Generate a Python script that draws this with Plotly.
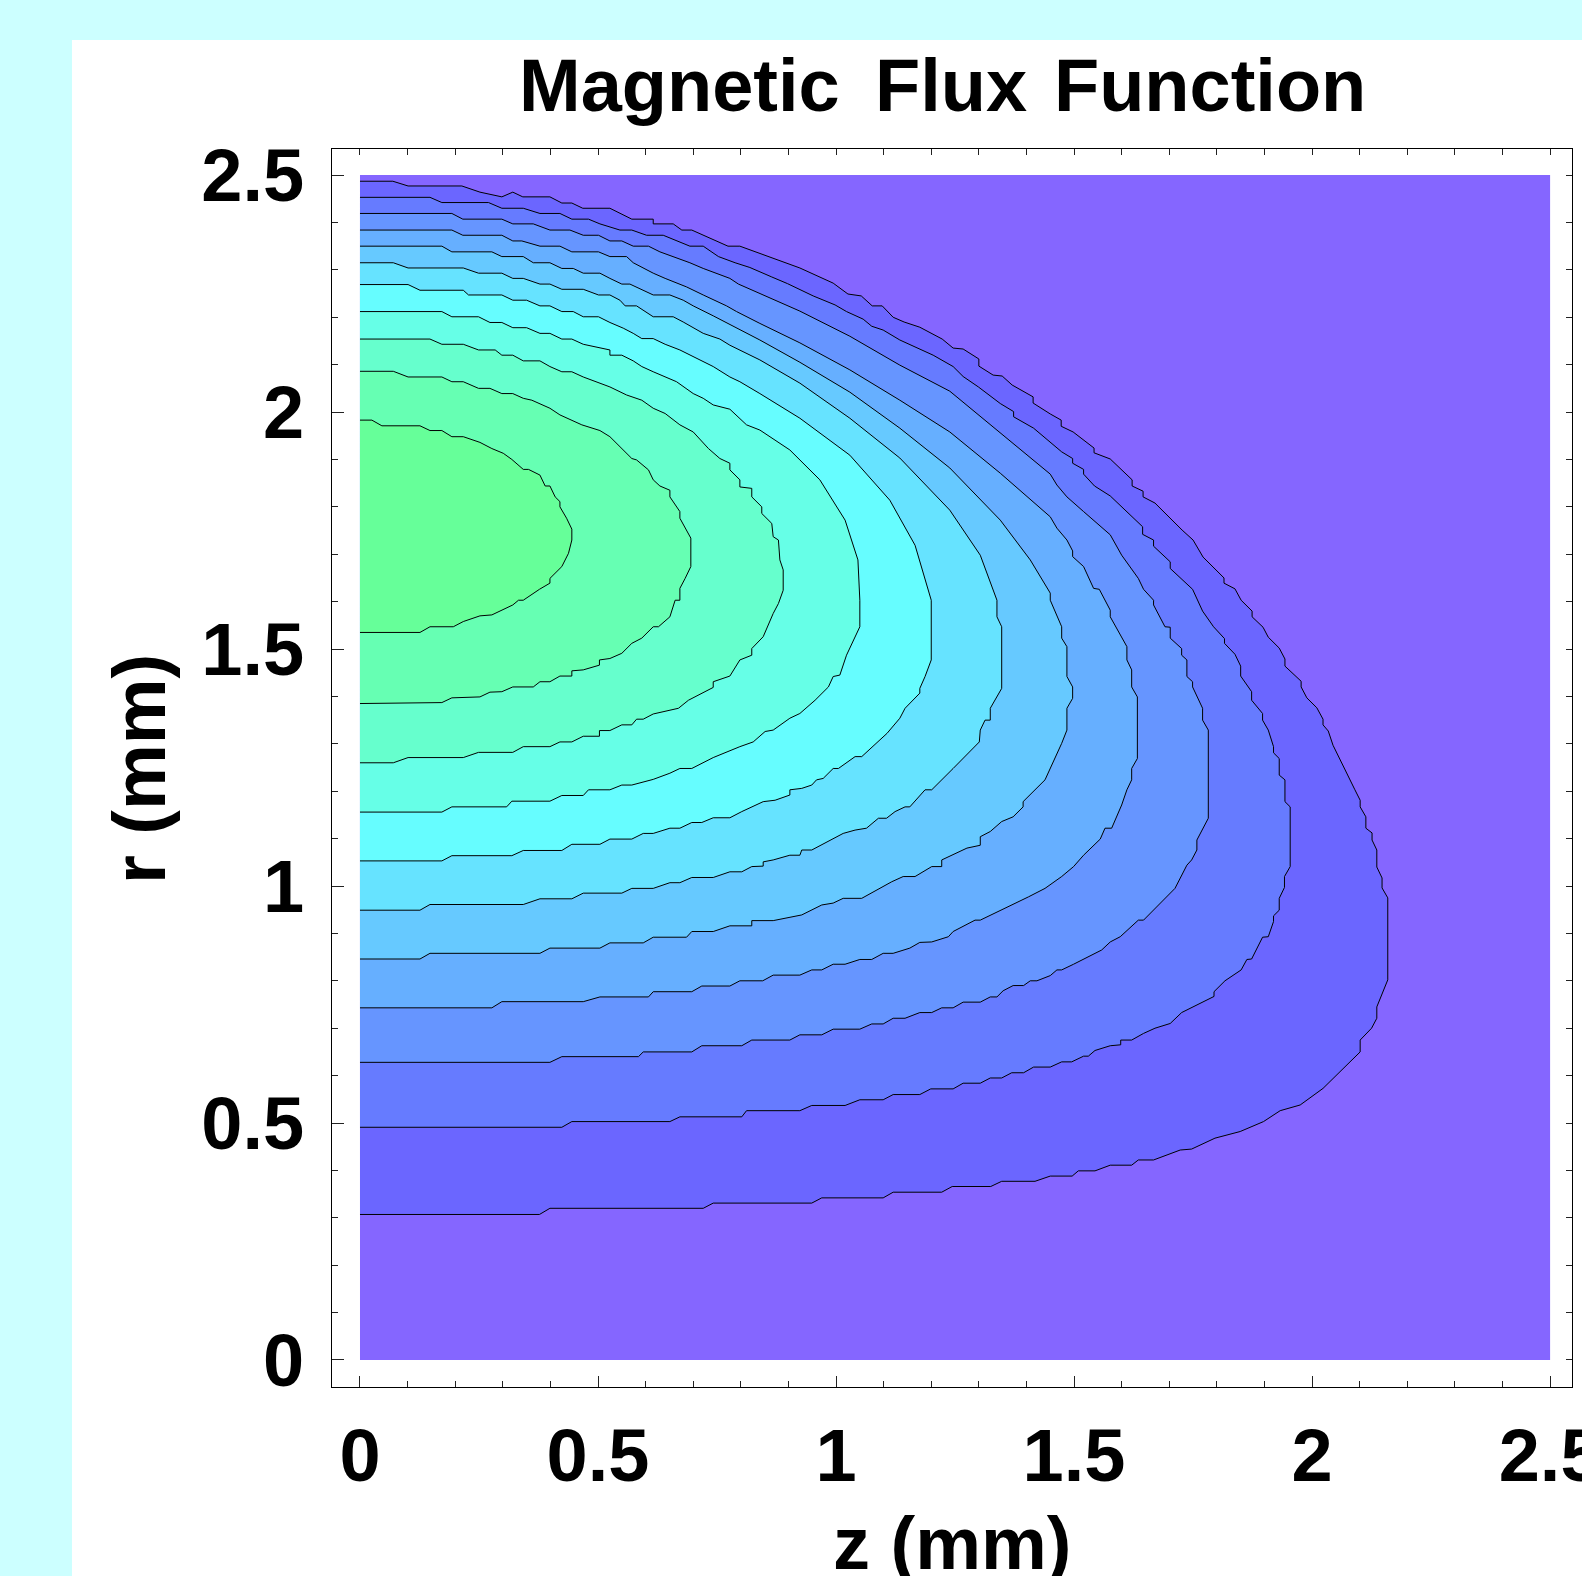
import plotly.graph_objects as go

TITLE = "Magnetic\u2009 Flux\u200a Function"
X_LABEL = "z (mm)"
Y_LABEL = "r (mm)"
Z_TICKS = [0, 0.5, 1, 1.5, 2, 2.5]
R_TICKS = [0, 0.5, 1, 1.5, 2, 2.5]
TICK_TEXT = ["0", "0.5", "1", "1.5", "2", "2.5"]
Z_RANGE = [-0.0588, 2.546]
R_RANGE = [-0.057, 2.555]
DOMAIN_Z = [0, 2.5]
DOMAIN_R = [0, 2.5]

# contour lines (z, r) in mm, outermost (C1) to innermost (C11)
C1 = [(0,2.487),(0.069,2.487),(0.101,2.477),(0.214,2.477),(0.252,2.464),(0.298,2.454),(0.321,2.464),(0.342,2.454),(0.399,2.454),(0.424,2.441),(0.445,2.441),(0.468,2.430),(0.525,2.430),(0.571,2.407),(0.616,2.407),(0.616,2.397),(0.658,2.397),(0.676,2.384),(0.697,2.384),(0.746,2.361),(0.773,2.350),(0.798,2.350),(0.866,2.325),(0.924,2.304),(0.994,2.272),(1.025,2.249),(1.053,2.245),(1.076,2.224),(1.097,2.224),(1.120,2.200),(1.143,2.190),(1.176,2.179),(1.223,2.154),(1.246,2.135),(1.267,2.133),(1.300,2.112),(1.300,2.097),(1.330,2.078),(1.349,2.076),(1.370,2.057),(1.414,2.032),(1.414,2.019),(1.450,1.996),(1.473,1.983),(1.473,1.970),(1.498,1.958),(1.542,1.924),(1.542,1.914),(1.576,1.901),(1.622,1.857),(1.622,1.844),(1.645,1.833),(1.645,1.821),(1.670,1.808),(1.727,1.751),(1.750,1.730),(1.771,1.694),(1.815,1.650),(1.815,1.639),(1.838,1.627),(1.851,1.603),(1.874,1.580),(1.874,1.568),(1.897,1.546),(1.908,1.525),(1.931,1.502),(1.943,1.479),(1.943,1.464),(1.977,1.432),(1.977,1.420),(1.989,1.397),(2.010,1.376),(2.023,1.352),(2.023,1.340),(2.034,1.327),(2.044,1.297),(2.090,1.203),(2.101,1.181),(2.101,1.167),(2.113,1.146),(2.113,1.122),(2.126,1.112),(2.126,1.097),(2.136,1.076),(2.136,1.040),(2.147,1.017),(2.147,0.996),(2.159,0.975),(2.159,0.802),(2.136,0.745),(2.136,0.721),(2.125,0.700),(2.101,0.675),(2.101,0.650),(2.023,0.573),(1.975,0.538),(1.933,0.526),(1.898,0.503),(1.849,0.482),(1.796,0.468),(1.747,0.445),(1.723,0.443),(1.667,0.422),(1.635,0.422),(1.621,0.411),(1.576,0.411),(1.544,0.399),(1.509,0.399),(1.496,0.388),(1.450,0.388),(1.418,0.377),(1.348,0.377),(1.325,0.366),(1.244,0.366),(1.222,0.354),(1.120,0.354),(1.099,0.342),(0.970,0.342),(0.949,0.331),(0.742,0.331),(0.721,0.320),(0.399,0.320),(0.377,0.307),(0,0.307)]

C2 = [(0,2.453),(0.147,2.453),(0.172,2.442),(0.270,2.442),(0.298,2.430),(0.343,2.430),(0.378,2.419),(0.420,2.419),(0.445,2.407),(0.480,2.407),(0.504,2.397),(0.546,2.384),(0.571,2.384),(0.602,2.373),(0.637,2.373),(0.693,2.350),(0.721,2.350),(0.753,2.328),(0.788,2.315),(0.819,2.305),(0.865,2.285),(0.898,2.271),(0.952,2.245),(0.998,2.226),(1.022,2.212),(1.057,2.196),(1.075,2.181),(1.099,2.173),(1.134,2.152),(1.204,2.120),(1.246,2.096),(1.267,2.075),(1.299,2.053),(1.345,2.018),(1.373,2.001),(1.373,1.990),(1.415,1.966),(1.450,1.937),(1.474,1.916),(1.497,1.902),(1.497,1.892),(1.520,1.879),(1.520,1.869),(1.543,1.844),(1.576,1.823),(1.644,1.758),(1.644,1.742),(1.667,1.730),(1.667,1.717),(1.702,1.684),(1.702,1.670),(1.749,1.626),(1.770,1.580),(1.793,1.547),(1.816,1.522),(1.816,1.512),(1.838,1.489),(1.850,1.464),(1.850,1.443),(1.873,1.410),(1.873,1.392),(1.896,1.364),(1.896,1.350),(1.908,1.329),(1.919,1.294),(1.919,1.281),(1.931,1.269),(1.931,1.234),(1.943,1.224),(1.943,1.178),(1.954,1.167),(1.954,1.041),(1.942,1.020),(1.942,0.997),(1.931,0.974),(1.931,0.949),(1.919,0.937),(1.919,0.925),(1.908,0.893),(1.896,0.892),(1.873,0.846),(1.863,0.845),(1.851,0.823),(1.817,0.800),(1.794,0.777),(1.794,0.767),(1.772,0.756),(1.726,0.733),(1.702,0.710),(1.670,0.700),(1.646,0.689),(1.621,0.675),(1.598,0.675),(1.598,0.665),(1.576,0.663),(1.544,0.653),(1.530,0.641),(1.520,0.641),(1.495,0.629),(1.474,0.629),(1.450,0.618),(1.415,0.618),(1.394,0.606),(1.369,0.606),(1.348,0.595),(1.324,0.595),(1.303,0.584),(1.267,0.584),(1.246,0.572),(1.199,0.572),(1.176,0.560),(1.120,0.560),(1.099,0.549),(1.050,0.549),(1.019,0.537),(0.949,0.537),(0.924,0.526),(0.812,0.526),(0.802,0.513),(0.672,0.513),(0.651,0.503),(0.445,0.503),(0.424,0.491),(0,0.491)]

C3 = [(0,2.419),(0.193,2.419),(0.216,2.407),(0.298,2.407),(0.321,2.397),(0.364,2.397),(0.399,2.384),(0.441,2.384),(0.469,2.373),(0.501,2.373),(0.525,2.361),(0.550,2.361),(0.574,2.350),(0.606,2.350),(0.630,2.338),(0.658,2.328),(0.693,2.315),(0.721,2.303),(0.777,2.282),(0.795,2.270),(0.840,2.250),(0.924,2.213),(1.029,2.160),(1.134,2.099),(1.239,2.044),(1.345,1.956),(1.450,1.869),(1.464,1.846),(1.485,1.821),(1.520,1.790),(1.576,1.741),(1.600,1.698),(1.635,1.649),(1.646,1.626),(1.667,1.603),(1.667,1.593),(1.691,1.547),(1.702,1.546),(1.702,1.523),(1.726,1.501),(1.726,1.487),(1.737,1.477),(1.737,1.442),(1.749,1.431),(1.749,1.420),(1.770,1.375),(1.770,1.350),(1.782,1.329),(1.782,1.143),(1.758,1.097),(1.758,1.076),(1.747,1.055),(1.737,1.044),(1.712,0.995),(1.681,0.963),(1.660,0.942),(1.646,0.928),(1.635,0.928),(1.597,0.893),(1.576,0.882),(1.558,0.865),(1.499,0.835),(1.474,0.823),(1.464,0.823),(1.450,0.811),(1.422,0.800),(1.408,0.800),(1.394,0.790),(1.372,0.790),(1.351,0.779),(1.338,0.766),(1.324,0.766),(1.303,0.755),(1.267,0.755),(1.246,0.743),(1.222,0.743),(1.201,0.733),(1.176,0.733),(1.145,0.721),(1.120,0.721),(1.099,0.709),(1.075,0.709),(1.050,0.698),(0.994,0.698),(0.970,0.686),(0.924,0.686),(0.903,0.675),(0.823,0.675),(0.802,0.663),(0.718,0.663),(0.697,0.650),(0.595,0.650),(0.585,0.640),(0.424,0.640),(0.399,0.628),(0,0.628)]

C4 = [(0,2.384),(0.193,2.384),(0.216,2.373),(0.298,2.373),(0.321,2.361),(0.340,2.361),(0.378,2.350),(0.420,2.350),(0.445,2.338),(0.501,2.338),(0.525,2.328),(0.560,2.328),(0.574,2.315),(0.592,2.305),(0.616,2.293),(0.641,2.282),(0.686,2.264),(0.721,2.247),(0.746,2.236),(0.770,2.224),(0.791,2.212),(0.812,2.201),(0.840,2.187),(0.924,2.146),(1.029,2.089),(1.134,2.025),(1.239,1.958),(1.345,1.871),(1.450,1.779),(1.464,1.755),(1.485,1.730),(1.497,1.707),(1.497,1.695),(1.520,1.674),(1.541,1.628),(1.553,1.626),(1.576,1.582),(1.576,1.568),(1.600,1.523),(1.611,1.505),(1.611,1.477),(1.621,1.456),(1.621,1.420),(1.633,1.399),(1.633,1.269),(1.621,1.248),(1.621,1.224),(1.611,1.203),(1.600,1.171),(1.579,1.122),(1.565,1.122),(1.555,1.099),(1.520,1.065),(1.499,1.041),(1.474,1.020),(1.439,0.995),(1.404,0.977),(1.303,0.928),(1.292,0.928),(1.246,0.904),(1.236,0.893),(1.201,0.882),(1.176,0.881),(1.155,0.869),(1.120,0.858),(1.099,0.858),(1.075,0.845),(1.050,0.845),(1.019,0.835),(0.994,0.835),(0.970,0.823),(0.949,0.823),(0.924,0.812),(0.868,0.812),(0.846,0.800),(0.798,0.800),(0.777,0.789),(0.718,0.789),(0.697,0.777),(0.616,0.777),(0.606,0.766),(0.504,0.766),(0.469,0.756),(0.298,0.756),(0.277,0.743),(0,0.743)]

C5 = [(0,2.350),(0.172,2.350),(0.193,2.338),(0.277,2.338),(0.298,2.328),(0.343,2.328),(0.364,2.315),(0.399,2.315),(0.424,2.303),(0.448,2.303),(0.469,2.293),(0.504,2.293),(0.525,2.282),(0.550,2.270),(0.567,2.270),(0.592,2.259),(0.616,2.247),(0.651,2.247),(0.679,2.236),(0.700,2.224),(0.721,2.214),(0.742,2.203),(0.840,2.152),(0.924,2.105),(1.029,2.042),(1.134,1.966),(1.239,1.882),(1.345,1.772),(1.408,1.688),(1.450,1.618),(1.450,1.603),(1.474,1.547),(1.474,1.523),(1.485,1.505),(1.485,1.442),(1.497,1.420),(1.497,1.396),(1.485,1.375),(1.485,1.329),(1.474,1.301),(1.439,1.224),(1.393,1.178),(1.393,1.167),(1.372,1.146),(1.348,1.136),(1.324,1.115),(1.303,1.104),(1.303,1.086),(1.275,1.080),(1.222,1.055),(1.222,1.041),(1.201,1.041),(1.166,1.020),(1.141,1.020),(1.117,1.009),(1.054,0.974),(1.015,0.974),(0.994,0.964),(0.970,0.960),(0.949,0.949),(0.928,0.939),(0.868,0.927),(0.823,0.927),(0.823,0.916),(0.777,0.916),(0.742,0.904),(0.697,0.904),(0.686,0.892),(0.616,0.892),(0.595,0.880),(0.525,0.880),(0.504,0.869),(0.399,0.869),(0.378,0.858),(0.147,0.858),(0.126,0.846),(0,0.846)]

C6 = [(0,2.315),(0.070,2.315),(0.101,2.304),(0.217,2.304),(0.249,2.293),(0.298,2.293),(0.321,2.282),(0.343,2.282),(0.378,2.270),(0.399,2.270),(0.424,2.259),(0.469,2.259),(0.501,2.247),(0.525,2.247),(0.546,2.236),(0.557,2.224),(0.581,2.224),(0.616,2.201),(0.658,2.201),(0.679,2.190),(0.721,2.166),(0.756,2.154),(0.777,2.141),(0.798,2.131),(0.840,2.110),(0.924,2.061),(1.029,1.987),(1.134,1.903),(1.239,1.793),(1.303,1.698),(1.338,1.603),(1.338,1.568),(1.348,1.547),(1.348,1.417),(1.324,1.375),(1.324,1.350),(1.313,1.350),(1.303,1.329),(1.301,1.304),(1.246,1.248),(1.201,1.203),(1.187,1.203),(1.155,1.167),(1.145,1.167),(1.124,1.157),(1.106,1.143),(1.089,1.143),(1.064,1.122),(1.040,1.118),(1.015,1.111),(0.949,1.076),(0.928,1.076),(0.924,1.065),(0.903,1.065),(0.868,1.055),(0.847,1.051),(0.847,1.042),(0.823,1.041),(0.802,1.030),(0.777,1.030),(0.742,1.018),(0.697,1.018),(0.672,1.007),(0.651,1.007),(0.616,0.995),(0.571,0.995),(0.550,0.985),(0.469,0.985),(0.445,0.973),(0.378,0.973),(0.343,0.961),(0.147,0.961),(0.126,0.949),(0,0.949)]

C7 = [(0,2.269),(0.101,2.269),(0.126,2.257),(0.217,2.257),(0.228,2.247),(0.298,2.247),(0.321,2.236),(0.350,2.236),(0.378,2.224),(0.399,2.224),(0.424,2.212),(0.448,2.212),(0.469,2.201),(0.501,2.201),(0.525,2.189),(0.553,2.177),(0.574,2.166),(0.592,2.155),(0.616,2.155),(0.641,2.143),(0.672,2.131),(0.700,2.117),(0.721,2.106),(0.742,2.096),(0.777,2.074),(0.798,2.064),(0.840,2.039),(0.924,1.987),(1.029,1.909),(1.113,1.814),(1.166,1.719),(1.200,1.603),(1.200,1.477),(1.187,1.442),(1.176,1.417),(1.176,1.407),(1.145,1.375),(1.134,1.354),(1.107,1.322),(1.054,1.273),(1.040,1.273),(1.019,1.259),(1.005,1.248),(0.994,1.248),(0.973,1.227),(0.959,1.224),(0.949,1.213),(0.928,1.206),(0.903,1.203),(0.903,1.192),(0.872,1.181),(0.847,1.178),(0.823,1.167),(0.802,1.157),(0.777,1.144),(0.742,1.144),(0.718,1.134),(0.697,1.134),(0.672,1.122),(0.651,1.122),(0.616,1.111),(0.595,1.111),(0.571,1.099),(0.525,1.099),(0.504,1.088),(0.445,1.088),(0.424,1.075),(0.343,1.075),(0.319,1.064),(0.193,1.064),(0.172,1.053),(0,1.053)]

C8 = [(0,2.212),(0.172,2.212),(0.193,2.201),(0.249,2.201),(0.273,2.189),(0.298,2.189),(0.321,2.178),(0.350,2.178),(0.378,2.166),(0.399,2.166),(0.424,2.154),(0.445,2.154),(0.469,2.143),(0.525,2.131),(0.525,2.120),(0.550,2.120),(0.574,2.108),(0.592,2.096),(0.616,2.085),(0.641,2.074),(0.665,2.064),(0.700,2.039),(0.721,2.029),(0.742,2.015),(0.777,2.006),(0.812,1.973),(0.840,1.962),(0.903,1.920),(0.966,1.857),(1.019,1.772),(1.046,1.688),(1.050,1.603),(1.050,1.547),(1.022,1.487),(1.008,1.445),(0.994,1.442),(0.984,1.420),(0.956,1.392),(0.924,1.364),(0.903,1.354),(0.868,1.329),(0.851,1.326),(0.826,1.304),(0.798,1.294),(0.742,1.271),(0.697,1.248),(0.672,1.248),(0.651,1.238),(0.616,1.225),(0.571,1.213),(0.550,1.213),(0.525,1.203),(0.480,1.203),(0.469,1.191),(0.424,1.191),(0.399,1.179),(0.319,1.179),(0.308,1.167),(0.193,1.167),(0.172,1.156),(0,1.156)]

C9 = [(0,2.154),(0.147,2.154),(0.172,2.143),(0.217,2.143),(0.249,2.131),(0.284,2.131),(0.298,2.120),(0.321,2.120),(0.343,2.108),(0.378,2.108),(0.399,2.096),(0.424,2.085),(0.445,2.085),(0.469,2.074),(0.525,2.053),(0.560,2.036),(0.592,2.025),(0.616,2.008),(0.641,1.997),(0.672,1.973),(0.700,1.958),(0.732,1.923),(0.756,1.902),(0.777,1.892),(0.777,1.878),(0.798,1.857),(0.798,1.842),(0.823,1.839),(0.823,1.821),(0.844,1.800),(0.844,1.786),(0.865,1.765),(0.868,1.737),(0.879,1.730),(0.882,1.688),(0.889,1.667),(0.889,1.624),(0.879,1.596),(0.868,1.575),(0.847,1.526),(0.823,1.501),(0.823,1.487),(0.798,1.477),(0.777,1.443),(0.742,1.431),(0.742,1.419),(0.690,1.392),(0.669,1.375),(0.616,1.363),(0.595,1.352),(0.581,1.352),(0.571,1.340),(0.550,1.340),(0.525,1.328),(0.503,1.328),(0.503,1.316),(0.469,1.316),(0.445,1.304),(0.420,1.304),(0.399,1.294),(0.343,1.294),(0.321,1.282),(0.249,1.282),(0.217,1.271),(0.101,1.271),(0.070,1.260),(0,1.260)]

C10 = [(0,2.086),(0.070,2.086),(0.101,2.074),(0.172,2.074),(0.193,2.064),(0.217,2.064),(0.249,2.050),(0.273,2.050),(0.298,2.039),(0.321,2.039),(0.343,2.029),(0.361,2.025),(0.399,2.008),(0.420,1.994),(0.466,1.973),(0.504,1.961),(0.525,1.948),(0.571,1.902),(0.581,1.899),(0.606,1.878),(0.616,1.857),(0.630,1.844),(0.651,1.835),(0.651,1.821),(0.672,1.790),(0.672,1.776),(0.695,1.734),(0.695,1.674),(0.683,1.649),(0.672,1.628),(0.672,1.603),(0.662,1.603),(0.651,1.568),(0.627,1.547),(0.616,1.547),(0.592,1.523),(0.571,1.512),(0.550,1.491),(0.525,1.480),(0.503,1.477),(0.503,1.466),(0.469,1.456),(0.445,1.454),(0.445,1.443),(0.420,1.443),(0.399,1.431),(0.378,1.431),(0.364,1.420),(0.321,1.420),(0.298,1.410),(0.273,1.409),(0.252,1.399),(0.193,1.397),(0.172,1.387),(0,1.385)]

C11 = [(0,1.983),(0.025,1.983),(0.046,1.971),(0.126,1.971),(0.147,1.961),(0.172,1.961),(0.193,1.948),(0.217,1.948),(0.252,1.936),(0.277,1.923),(0.301,1.913),(0.319,1.900),(0.343,1.879),(0.354,1.879),(0.378,1.867),(0.389,1.844),(0.399,1.844),(0.410,1.821),(0.420,1.811),(0.420,1.800),(0.434,1.776),(0.445,1.753),(0.445,1.730),(0.438,1.702),(0.424,1.674),(0.399,1.649),(0.399,1.639),(0.377,1.626),(0.343,1.603),(0.333,1.603),(0.321,1.593),(0.301,1.584),(0.277,1.572),(0.252,1.570),(0.217,1.558),(0.196,1.547),(0.147,1.547),(0.126,1.535),(0,1.535)]

CONTOURS = [C1, C2, C3, C4, C5, C6, C7, C8, C9, C10, C11]
LEVEL_COLORS = ["#8566FF", "#6B66FF", "#667BFF", "#6695FF", "#66AFFF", "#66C9FF",
                "#66E3FF", "#66FDFF", "#66FFE7", "#66FFCD", "#66FFB3", "#66FF99"]

FONT = "Liberation Sans, Arial, Helvetica, sans-serif"

fig = go.Figure()

# lowest level fills the whole data domain
fig.add_trace(go.Scatter(
    x=[DOMAIN_Z[0], DOMAIN_Z[1], DOMAIN_Z[1], DOMAIN_Z[0]],
    y=[DOMAIN_R[0], DOMAIN_R[0], DOMAIN_R[1], DOMAIN_R[1]],
    fill="toself", fillcolor=LEVEL_COLORS[0], mode="none",
    hoverinfo="skip", showlegend=False))

for pts, col in zip(CONTOURS, LEVEL_COLORS[1:]):
    zs = [p[0] for p in pts]
    rs = [p[1] for p in pts]
    fig.add_trace(go.Scatter(
        x=zs, y=rs, fill="toself", fillcolor=col, mode="lines",
        line=dict(color="black", width=1), hoverinfo="skip", showlegend=False))

# helper trace for the mirrored (top/right) tick axes
fig.add_trace(go.Scatter(x=[DOMAIN_Z[0]], y=[DOMAIN_R[0]], xaxis="x2", yaxis="y2",
                         mode="markers", marker=dict(opacity=0), hoverinfo="skip",
                         showlegend=False))

tickfont = dict(family=FONT, size=74, color="black", weight="bold")

fig.update_layout(
    width=1582, height=1576,
    margin=dict(l=332, r=10, t=149, b=189, autoexpand=False),
    paper_bgcolor="white", plot_bgcolor="white",
    showlegend=False,
    xaxis=dict(range=Z_RANGE, tickvals=Z_TICKS, ticktext=TICK_TEXT, automargin=False,
               ticks="inside", ticklen=11, tickwidth=1, tickcolor="#222",
               showline=True, linecolor="black", linewidth=1, mirror=True,
               showgrid=False, zeroline=False, tickfont=tickfont,
               ticklabelstandoff=4, ticklabeloverflow="allow",
               minor=dict(dtick=0.1, tick0=0, ticks="inside", ticklen=6,
                          tickcolor="#222", showgrid=False)),
    yaxis=dict(range=R_RANGE, tickvals=R_TICKS, ticktext=TICK_TEXT, automargin=False,
               ticks="inside", ticklen=12, tickwidth=1, tickcolor="#222",
               showline=True, linecolor="black", linewidth=1, mirror=True,
               showgrid=False, zeroline=False, tickfont=tickfont,
               ticklabelstandoff=12, ticklabeloverflow="allow",
               minor=dict(dtick=0.1, tick0=0, ticks="inside", ticklen=6,
                          tickcolor="#222", showgrid=False)),
    xaxis2=dict(range=Z_RANGE, overlaying="x", side="top", anchor="y2", automargin=False,
                tickvals=Z_TICKS, ticks="inside", ticklen=6, tickcolor="#222",
                showticklabels=False, showgrid=False, zeroline=False, showline=False,
                minor=dict(dtick=0.1, tick0=0, ticks="inside", ticklen=6,
                           tickcolor="#222", showgrid=False)),
    yaxis2=dict(range=R_RANGE, overlaying="y", side="right", anchor="x2", automargin=False,
                tickvals=R_TICKS, ticks="inside", ticklen=6, tickcolor="#222",
                showticklabels=False, showgrid=False, zeroline=False, showline=False,
                minor=dict(dtick=0.1, tick0=0, ticks="inside", ticklen=6,
                           tickcolor="#222", showgrid=False)),
    shapes=[
        dict(type="rect", xref="paper", yref="paper", x0=-0.3, x1=-0.2097,
             y0=-0.2, y1=1.2, fillcolor="#CCFFFF", line=dict(width=0), layer="below"),
        dict(type="rect", xref="paper", yref="paper", x0=-0.3, x1=1.1,
             y0=1.0880, y1=1.2, fillcolor="#CCFFFF", line=dict(width=0), layer="below"),
    ],
    annotations=[
        dict(text="<b>" + TITLE + "</b>", xref="paper", yref="paper",
             x=0.4927, y=1.0514, xanchor="center", yanchor="middle", showarrow=False,
             font=dict(family=FONT, size=74, color="black")),
        dict(text="<b>" + X_LABEL + "</b>", xref="paper", yref="paper",
             x=0.5, y=-0.1268, xanchor="center", yanchor="middle", showarrow=False,
             font=dict(family=FONT, size=74, color="black")),
        dict(text="<b>" + Y_LABEL + "</b>", xref="paper", yref="paper",
             x=-0.1548, y=0.4992, xanchor="center", yanchor="middle", showarrow=False,
             textangle=-90, font=dict(family=FONT, size=74, color="black")),
    ],
)

fig.write_html("out.html")
